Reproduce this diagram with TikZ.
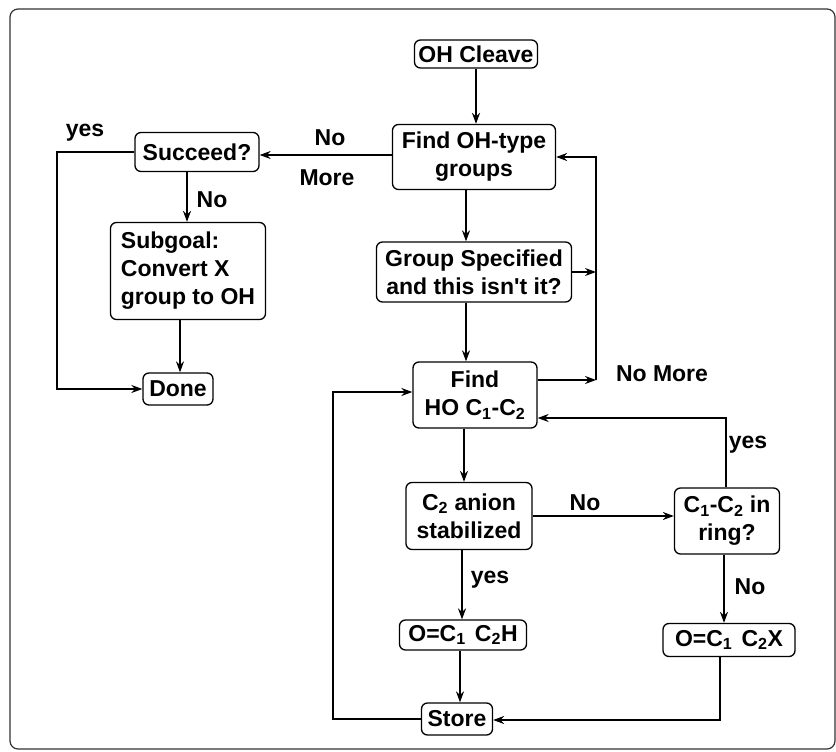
\documentclass[tikz,border=0pt]{standalone}
\usepackage{fontspec}
\setmainfont{Liberation Sans}
\usetikzlibrary{arrows.meta}
\begin{document}
\begin{tikzpicture}[x=1pt,y=-1pt,
 box/.style={draw,line width=1.3pt,rounded corners=6pt,align=center,inner sep=2pt,font=\bfseries\fontsize{23}{28}\selectfont},
 lab/.style={font=\bfseries\fontsize{23}{26}\selectfont},
 arr/.style={line width=1.6pt,-{Stealth[length=11pt,width=8pt]}},
 ln/.style={line width=1.6pt}]
\useasboundingbox (0,0) rectangle (836,752);
\draw[line width=1.2pt,black!80,rounded corners=8pt] (10,9) rectangle (835,749);
% nodes
\node[box,minimum width=123pt,minimum height=28pt,inner sep=1pt] (oh) at (476,54) {OH Cleave};
\node[box,minimum width=163pt,minimum height=65pt] (fo) at (474,157) {Find OH-type\\groups};
\node[box,minimum width=124pt,minimum height=39pt] (suc) at (197,152) {Succeed?};
\node[box,minimum width=155pt,minimum height=97pt,align=left] (sub) at (188,271) {Subgoal:\\Convert X\\group to OH};
\node[box,minimum width=70pt,minimum height=32pt,inner sep=1pt] (done) at (178,389) {Done};
\node[box,minimum width=195pt,minimum height=60pt,inner sep=1pt] (gs) at (474,272) {Group Specified\\and this isn\textquotesingle t it?};
\node[box,minimum width=124pt,minimum height=66pt] (fh) at (475,395) {Find\\HO C\textsubscript{1}-C\textsubscript{2}};
\node[box,minimum width=126pt,minimum height=67pt] (an) at (469,516) {C\textsubscript{2} anion\\stabilized};
\node[box,minimum width=105pt,minimum height=66pt] (ring) at (727,521) {C\textsubscript{1}-C\textsubscript{2} in\\ring?};
\node[box,minimum width=127pt,minimum height=30pt,inner sep=1pt] (oh2) at (463,635) {O=C\textsubscript{1}\hspace{0.4em}C\textsubscript{2}H};
\node[box,minimum width=132pt,minimum height=33pt,inner sep=1pt] (ox) at (729,640) {O=C\textsubscript{1}\hspace{0.4em}C\textsubscript{2}X};
\node[box,minimum width=71pt,minimum height=32pt,inner sep=1pt] (st) at (457,719) {Store};
% labels
\node[lab] (lno1) at (330,138) {No};
\node[lab] (lmore) at (327,178) {More};
\node[lab] (lyes1) at (85,133) {yes};
\node[lab] (lno2) at (212,200) {No};
\node[lab] (lnomore) at (662,374) {No More};
\node[lab] (lyes2) at (748,445) {yes};
\node[lab] (lno3) at (585,503) {No};
\node[lab] (lno4) at (750,587) {No};
\node[lab] (lyes3) at (490,580) {yes};
% coordinates
\coordinate (c1) at (57,152);
\coordinate (cA) at (466,0);
\coordinate (cB) at (464,0);
\coordinate (cC) at (462,0);
\coordinate (cD) at (460,0);
\coordinate (cE) at (187,0);
\coordinate (cF) at (180,0);
\coordinate (vt) at (596,157);
\coordinate (vb) at (596,380);
\coordinate (ry) at (726,418);
\coordinate (rx) at (724,0);
\coordinate (bx) at (720,720);
\coordinate (lx) at (333,392);
\coordinate (hy) at (0,155);
\coordinate (ay) at (0,516);
% connectors
\draw[arr] (oh.south) -- (oh.south |- fo.north);
\draw[arr] (fo.west |- hy) -- (suc.east |- hy);
\draw[arr] (suc.west) -- (suc.west -| c1) |- (done.west);
\draw[arr] (suc.south -| cE) -- (sub.north -| cE);
\draw[arr] (sub.south -| cF) -- (done.north -| cF);
\draw[arr] (fo.south -| cA) -- (gs.north -| cA);
\draw[arr] (gs.south -| cA) -- (fh.north -| cA);
\draw[arr] (fh.south -| cB) -- (an.north -| cB);
\draw[arr] (an.south -| cC) -- (oh2.north -| cC);
\draw[arr] (oh2.south -| cD) -- (st.north -| cD);
\draw[arr] (gs.east) -- (gs.east -| vb);
\draw[arr] (fh.east |- vb) -- (vb);
\draw[arr] (vb) -- (vt) -- (fo.east |- vt);
\draw[arr] (an.east |- ay) -- (ring.west |- ay);
\draw[arr] (ring.north -| ry) -- (ry) -- (fh.east |- ry);
\draw[arr] (ring.south -| rx) -- (ox.north -| rx);
\draw[arr] (ox.south -| bx) -- (bx) -- (st.east |- bx);
\draw[arr] (st.west) -- (st.west -| lx) -- (lx) -- (fh.west |- lx);
\end{tikzpicture}
\end{document}
